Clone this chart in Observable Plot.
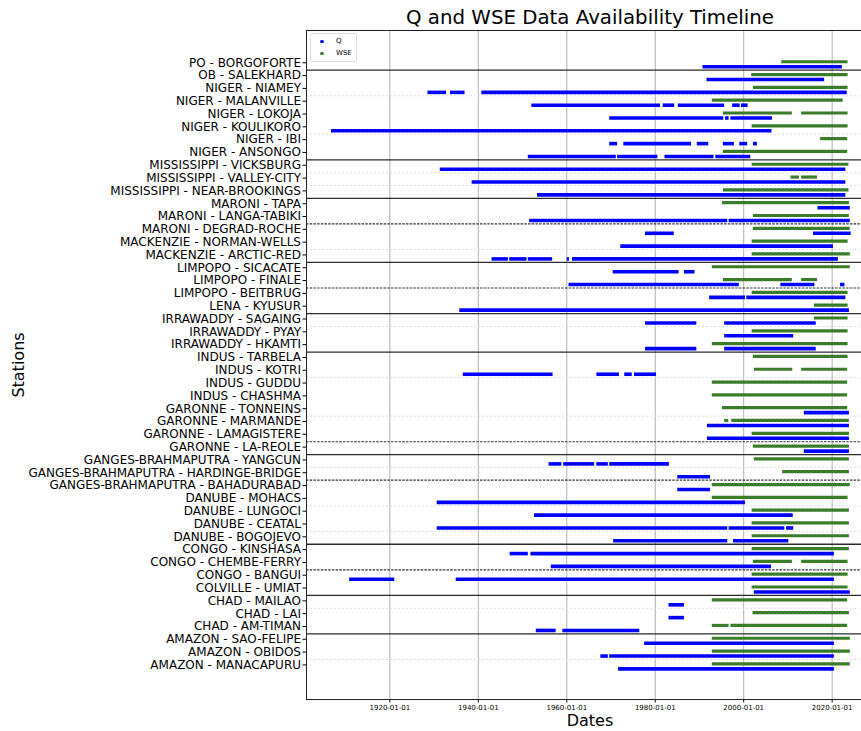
<!DOCTYPE html>
<html><head><meta charset="utf-8">
<script src="https://cdn.jsdelivr.net/npm/d3@7"></script>
<script src="https://cdn.jsdelivr.net/npm/@observablehq/plot@0.6"></script>
<style>
body{margin:0;background:#fff;font-family:"DejaVu Sans",sans-serif;}
#wrap{position:relative;width:861px;height:731px;overflow:hidden;background:#fff;}
#wrap svg{position:absolute;left:0;top:0;max-width:none !important;}
.title{position:absolute;left:0;width:1180px;top:6px;text-align:center;font-size:19.8px;color:#000;white-space:nowrap;}
.xlab{position:absolute;left:490px;width:200px;top:711px;text-align:center;font-size:16px;color:#000;}
.ylab{position:absolute;left:18px;top:365px;transform:translate(-50%,-50%) rotate(-90deg);font-size:16px;color:#000;white-space:nowrap;}
.legend{position:absolute;left:310px;top:33px;width:47px;height:29px;border:1px solid #ddd;border-radius:2px;background:#fff;font-size:7px;color:#000;box-sizing:border-box;}
.legend .row{position:absolute;left:0;height:10px;line-height:10px;}
.legend .dot{position:absolute;left:9px;top:3.5px;width:3.5px;height:3.5px;border-radius:50%;}
.legend .lab{position:absolute;left:25px;top:0;}
</style></head><body>
<div id="wrap">
  <div class="title">Q and WSE Data Availability Timeline</div>
</div>
<script>
const stations = [
  "PO - BORGOFORTE","OB - SALEKHARD","NIGER - NIAMEY","NIGER - MALANVILLE","NIGER - LOKOJA",
  "NIGER - KOULIKORO","NIGER - IBI","NIGER - ANSONGO","MISSISSIPPI - VICKSBURG","MISSISSIPPI - VALLEY-CITY",
  "MISSISSIPPI - NEAR-BROOKINGS","MARONI - TAPA","MARONI - LANGA-TABIKI","MARONI - DEGRAD-ROCHE",
  "MACKENZIE - NORMAN-WELLS","MACKENZIE - ARCTIC-RED","LIMPOPO - SICACATE","LIMPOPO - FINALE",
  "LIMPOPO - BEITBRUG","LENA - KYUSUR","IRRAWADDY - SAGAING","IRRAWADDY - PYAY","IRRAWADDY - HKAMTI",
  "INDUS - TARBELA","INDUS - KOTRI","INDUS - GUDDU","INDUS - CHASHMA","GARONNE - TONNEINS",
  "GARONNE - MARMANDE","GARONNE - LAMAGISTERE","GARONNE - LA-REOLE","GANGES-BRAHMAPUTRA - YANGCUN",
  "GANGES-BRAHMAPUTRA - HARDINGE-BRIDGE","GANGES-BRAHMAPUTRA - BAHADURABAD","DANUBE - MOHACS",
  "DANUBE - LUNGOCI","DANUBE - CEATAL","DANUBE - BOGOJEVO","CONGO - KINSHASA","CONGO - CHEMBE-FERRY",
  "CONGO - BANGUI","COLVILLE - UMIAT","CHAD - MAILAO","CHAD - LAI","CHAD - AM-TIMAN",
  "AMAZON - SAO-FELIPE","AMAZON - OBIDOS","AMAZON - MANACAPURU"
];
const xTicks = [1920, 1940, 1960, 1980, 2000, 2020];

// [station index, start year, end year]
const qRuns = [
  [0,1990.8,2022.3],[1,1991.7,2018.3],
  [2,1928.6,1932.8],[2,1933.7,1937.0],[2,1940.8,2023.4],
  [3,1952.1,1981.2],[3,1981.8,1984.4],[3,1985.2,1995.7],[3,1997.5,1999.2],[3,1999.5,2001.0],
  [4,1969.7,1995.5],[4,1995.9,1996.7],[4,1997.1,2006.5],
  [5,1906.8,2006.4],
  [6,1969.7,1971.5],[6,1972.9,1988.2],[6,1989.5,1992.1],[6,1995.4,1997.9],[6,1999.1,2000.9],[6,2002.2,2003.1],
  [7,1951.3,1971.2],[7,1971.5,1980.6],[7,1982.2,1993.3],[7,1993.7,2001.6],
  [8,1931.4,2023.1],[9,1938.6,2023.1],[10,1953.4,2023.1],
  [11,2016.8,2024.1],
  [12,1951.6,1996.4],[12,1996.7,2024.1],
  [13,1977.8,1984.3],[13,2015.8,2024.3],
  [14,1972.2,2020.3],
  [15,1943.1,1946.8],[15,1947.1,1951.0],[15,1951.3,1956.8],[15,1960.1,1960.6],[15,1961.3,2021.4],
  [16,1970.5,1985.4],[16,1986.6,1989.0],
  [17,1960.5,1999.0],[17,2008.4,2016.1],[17,2021.9,2022.9],
  [18,1992.3,2000.4],[18,2000.7,2023.1],
  [19,1935.8,2023.9],
  [20,1977.8,1989.4],[20,1995.7,2016.4],
  [21,1995.7,2011.3],
  [22,1977.8,1989.4],[22,1995.7,2016.4],
  [24,1936.6,1956.9],[24,1966.8,1971.9],[24,1973.1,1974.8],[24,1975.3,1980.3],
  [27,2013.7,2023.9],[28,1991.8,2023.9],[29,1991.8,2023.9],[30,2013.7,2023.9],
  [31,1956.0,1958.9],[31,1959.3,1966.3],[31,1966.8,1969.4],[31,1969.7,1983.2],
  [32,1985.1,1992.5],[33,1985.1,1992.5],
  [34,1930.7,2000.4],[35,1952.7,2011.2],
  [36,1930.7,1996.4],[36,1996.7,2009.3],[36,2009.7,2011.3],
  [37,1970.6,1996.4],[37,1997.7,2010.2],
  [38,1947.2,1951.3],[38,1951.9,2020.5],
  [39,1956.5,2006.3],
  [40,1910.9,1921.1],[40,1935.0,2020.5],
  [41,2002.4,2024.1],
  [42,1983.1,1986.6],[43,1983.1,1986.6],
  [44,1953.1,1957.6],[44,1959.1,1976.5],
  [45,1977.6,2020.5],
  [46,1967.7,1969.4],[46,1969.7,2020.5],
  [47,1971.7,2020.5]
];

const wseRuns = [
  [0,2008.6,2023.6],[1,2001.8,2023.6],[2,2002.2,2023.6],[3,1992.9,2022.5],
  [4,1995.4,2011.0],[4,2013.1,2023.6],[5,2001.9,2023.6],[6,2017.4,2023.5],[7,1995.4,2023.5],
  [8,2001.9,2023.8],[9,2010.7,2012.6],[9,2013.1,2016.7],[10,1995.4,2023.8],
  [11,1995.2,2023.9],[12,2002.2,2023.9],[13,2002.2,2024.1],[14,2001.9,2023.6],[15,2001.9,2024.1],
  [16,1992.9,2024.1],[17,1995.4,2011.0],[17,2013.1,2016.7],[18,2001.9,2023.6],[19,2016.0,2023.6],
  [20,2016.0,2023.6],[21,2001.9,2023.6],[22,1992.9,2023.6],[23,2002.2,2023.6],
  [24,2002.4,2011.1],[24,2013.1,2023.5],[25,1992.9,2023.5],[26,1992.9,2023.5],[27,1995.2,2023.5],
  [28,1995.7,1996.6],[28,1997.3,2023.9],[29,2001.9,2023.9],[30,2002.2,2023.9],[31,2002.4,2023.9],
  [32,2008.8,2023.9],[33,1992.9,2024.1],[34,1992.9,2023.6],[35,2001.9,2023.9],[36,2001.9,2023.9],
  [37,2001.9,2023.9],[38,2001.9,2023.9],[39,2002.2,2011.0],[39,2013.1,2023.6],[40,2001.9,2023.6],
  [41,2001.9,2023.6],[42,1992.9,2023.5],[43,2002.1,2023.9],[44,1992.9,1996.7],[44,1997.1,2023.5],
  [45,1992.9,2024.1],[46,1992.9,2024.1],[47,1992.9,2024.1]
];

// separator lines drawn below station index
const solidSeps = [0, 7, 10, 15, 19, 22, 30, 37, 41, 44];
const dashedSeps = [12, 17, 29, 32, 39];
const faintSeps = [2, 5, 8, 9, 14, 20, 24, 27, 31, 34, 36, 42, 46];

const seriesNames = ["Q", "WSE"];
const seriesColors = ["#0000ff", "#3a7d28"];

const sepY = d => d + 0.58;

const chart = Plot.plot({
  width: 880,
  height: 731,
  marginLeft: 306,
  marginRight: 5,
  marginTop: 30,
  marginBottom: 32,
  style: {fontFamily: "DejaVu Sans", background: "transparent", color: "#000", maxWidth: "none"},
  x: {type: "linear", domain: [1901.15, 2029.8]},
  y: {type: "linear", domain: [-2.52, 49.70], reverse: true},
  marks: [
    Plot.ruleX(xTicks, {x: d => d, stroke: "#b0b0b0", strokeWidth: 1}),
    Plot.ruleY(faintSeps, {y: sepY, stroke: "#dcdcdc", strokeWidth: 1, strokeDasharray: "2,2"}),
    Plot.ruleY(dashedSeps, {y: sepY, stroke: "#333", strokeWidth: 1.2, strokeDasharray: "2.5,1.2"}),
    Plot.ruleY(solidSeps, {y: sepY, stroke: "#2a2a2a", strokeWidth: 1.3}),
    Plot.ruleY(wseRuns, {y: d => d[0] - 0.08, x1: d => d[1], x2: d => d[2], stroke: seriesColors[1], strokeWidth: 3.2}),
    Plot.ruleY(qRuns, {y: d => d[0] + 0.31, x1: d => d[1], x2: d => d[2], stroke: seriesColors[0], strokeWidth: 3.6}),
    Plot.axisX({ticks: xTicks, tickFormat: d => d + "-01-01", fontSize: 7, tickSize: 3.5, tickPadding: 2, label: null}),
    Plot.axisY({ticks: d3.range(stations.length), tickFormat: i => stations[i], fontSize: 12, tickSize: 3.5, tickPadding: 2, label: null}),
    Plot.frame({stroke: "#222", strokeWidth: 1})
  ]
});
chart.style.maxWidth = "none";
chart.style.width = "880px";
chart.style.height = "731px";

const wrap = document.getElementById("wrap");
wrap.insertBefore(chart, wrap.firstChild);

const xl = document.createElement("div"); xl.className = "xlab"; xl.textContent = "Dates"; wrap.appendChild(xl);
const yl = document.createElement("div"); yl.className = "ylab"; yl.textContent = "Stations"; wrap.appendChild(yl);

const lg = document.createElement("div"); lg.className = "legend";
seriesNames.forEach((name, k) => {
  const r = document.createElement("div"); r.className = "row"; r.style.top = (2 + k * 12) + "px"; r.style.width = "45px";
  const dot = document.createElement("div"); dot.className = "dot"; dot.style.background = seriesColors[k];
  const lab = document.createElement("div"); lab.className = "lab"; lab.textContent = name;
  r.appendChild(dot); r.appendChild(lab); lg.appendChild(r);
});
wrap.appendChild(lg);
</script>
</body></html>
